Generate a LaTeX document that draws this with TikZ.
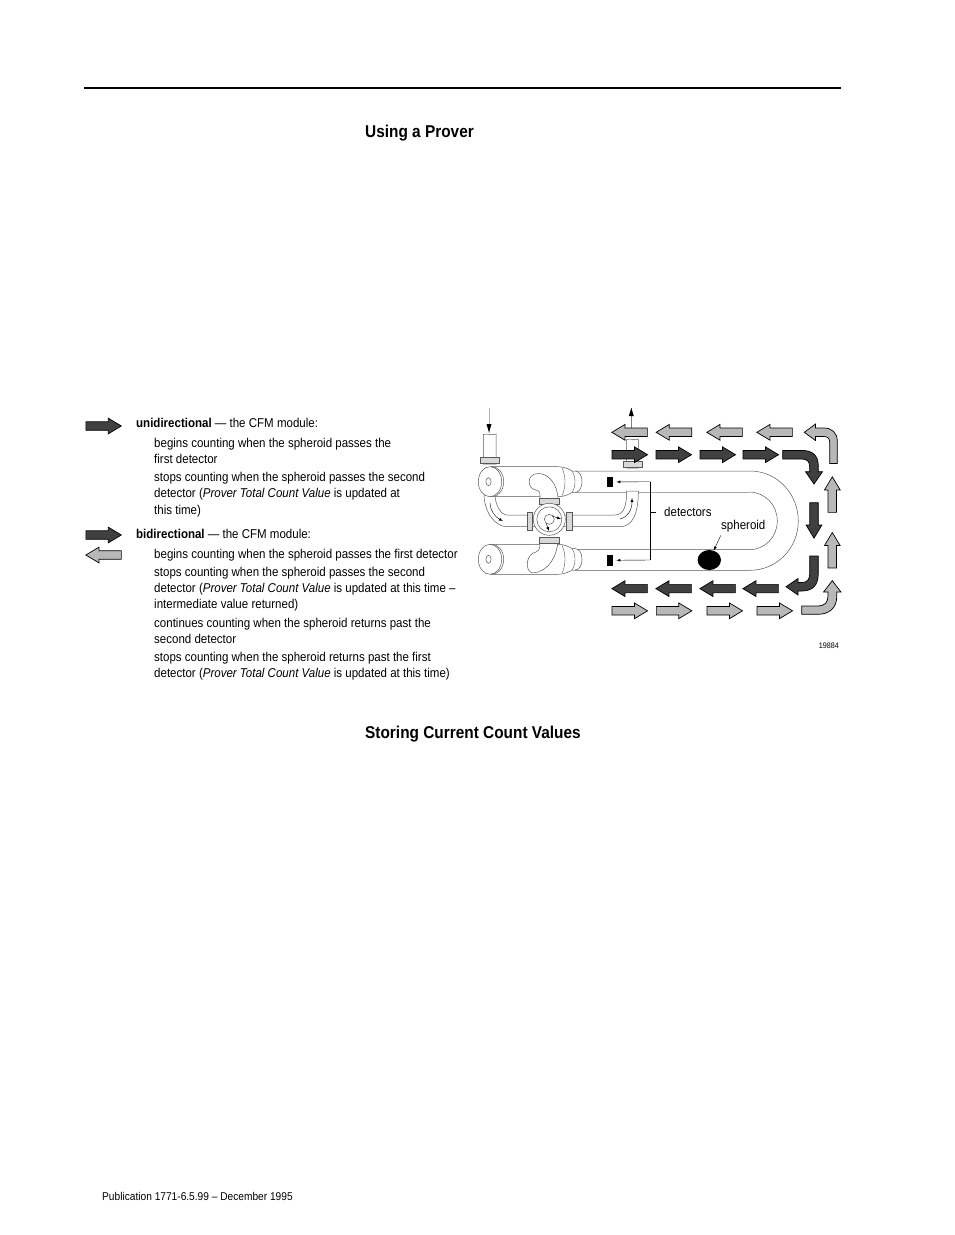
\documentclass[tikz,border=0pt]{standalone}
\usepackage{fontspec}
\setmainfont{Liberation Sans}[FakeStretch=0.9]
\usetikzlibrary{shapes.arrows,shapes.geometric,arrows}
\definecolor{darkflow}{gray}{0.25}
\definecolor{lightflow}{gray}{0.72}
\definecolor{pipeline}{gray}{0.35}
\tikzset{
  flowright/.style={single arrow, draw=black, line width=0.7pt, inner xsep=0pt, inner ysep=3.9pt,
    minimum height=35.5pt, minimum width=0pt, single arrow head extend=3.6pt,
    single arrow tip angle=62, anchor=tail},
  flowupright/.style={inner xsep=3.9pt, inner ysep=0pt},
  flowdark/.style={flowright, fill=darkflow},
  flowlight/.style={flowright, fill=lightflow},
  bodyline/.style={anchor=base west, inner sep=0pt, font=\fontsize{12.8}{14}\selectfont},
  footline/.style={anchor=base west, inner sep=0pt, font=\fontsize{11.3}{14}\selectfont},
  headline/.style={anchor=base west, inner sep=0pt, font=\fontsize{17.1}{18}\selectfont\bfseries},
  pipe/.style={draw=pipeline, line width=0.5pt, fill=white},
  flange/.style={draw=pipeline, line width=0.6pt, fill=black!15},
  bentflow/.style={draw=black, line width=0.7pt},
}
\begin{document}
\begin{tikzpicture}[x=1pt,y=-1pt]
  \useasboundingbox (0,0) rectangle (954,1235);

  % page rule and headings
  \coordinate (ruleL) at (84,88);
  \coordinate (ruleR) at (841,88);
  \draw[line width=2pt] (ruleL) -- (ruleR);
  \node[headline] (head1) at (365,137.5) {Using a Prover};
  \node[headline] (head2) at (365,738.5) {Storing Current Count Values};
  \node[footline] (foot) at (102,1200) {Publication 1771-6.5.99 -- December 1995};

  % legend text
  \node[bodyline] (uni) at (136,427) {\textbf{unidirectional} --- the CFM module:};
  \node[bodyline] (bi) at (136,538) {\textbf{bidirectional} --- the CFM module:};
  \foreach \y/\line [count=\i] in {
    447/{begins counting when the spheroid passes the},
    463/{first detector},
    481/{stops counting when the spheroid passes the second},
    497/{detector (\textit{Prover Total Count Value} is updated at},
    514/{this time)},
    558/{begins counting when the spheroid passes the first detector},
    576/{stops counting when the spheroid passes the second},
    592/{detector (\textit{Prover Total Count Value} is updated at this time --},
    608/{intermediate value returned)},
    627/{continues counting when the spheroid returns past the},
    643/{second detector},
    661/{stops counting when the spheroid returns past the first},
    677/{detector (\textit{Prover Total Count Value} is updated at this time)}}
  {
    \node[bodyline] (txt\i) at (154,\y) {\line};
  }

  % legend arrows
  \node[flowdark] (keyA) at (85.5,426) {};
  \node[flowdark] (keyB) at (85.5,535) {};
  \node[flowlight, shape border rotate=180] (keyC) at (121.7,555) {};

  % U tube
  \path[pipe] (575,471) -- (750,471) .. controls (777,471) and (798.3,493.5) .. (798.3,521)
    .. controls (798.3,548) and (777,570.3) .. (750,570.3) -- (575,570.3);
  \draw[draw=black!35, line width=0.6pt] (575,492) -- (749,492);
  \draw[pipe, fill=none] (749,492) .. controls (765,492) and (777.3,505) .. (777.3,521)
    .. controls (777.3,537) and (765,549.7) .. (749,549.7) -- (575,549.7);

  % return pipes and valve
  \path[pipe] (484,494) .. controls (484,512) and (495,526.7) .. (507,526.7) -- (620,526.7)
    .. controls (632,526.7) and (638.3,515) .. (638.3,491) -- (626.7,491)
    .. controls (626.7,505) and (624,515) .. (615,515) -- (507,515)
    .. controls (501,515) and (495,505) .. (495,494) -- cycle;
  \draw[flange] (527,512) rectangle (532,530);
  \draw[flange] (566.7,512) rectangle (572.3,530);

  % barrels
  \foreach \name/\yc in {upper/481.7, lower/559.3}
  {
    \path[pipe] (491,\yc-15) -- (558,\yc-15) .. controls (565,\yc-15) and (570,\yc-12) .. (572,\yc-10.7)
      -- (575,\yc-10.7) .. controls (580,\yc-10.7) and (582,\yc-5) .. (582,\yc)
      .. controls (582,\yc+5) and (580,\yc+10.7) .. (575,\yc+10.7) -- (572,\yc+10.7)
      .. controls (570,\yc+12) and (565,\yc+15) .. (558,\yc+15) -- (491,\yc+15) -- cycle;
    \draw[draw=pipeline, line width=0.4pt] (572,\yc-10.7) .. controls (576,\yc-5) and (576,\yc+5) .. (572,\yc+10.7);
    \draw[draw=pipeline, line width=0.4pt] (562,\yc-14) .. controls (566,\yc-5) and (566,\yc+5) .. (562,\yc+14);
    \draw[pipe] (492,\yc) ellipse [x radius=11.7, y radius=15];
    \draw[pipe] (490,\yc) ellipse [x radius=11.7, y radius=15];
    \draw[pipe] (488.5,\yc) ellipse [x radius=2.6, y radius=4];
  }

  % elbows above and below the valve
  \path[pipe] (558,500) .. controls (558,484) and (548,473) .. (538,473.5)
    .. controls (526,474) and (527,489) .. (536,490)
    .. controls (541,490.5) and (540,496) .. (540,500) -- cycle;
  \path[pipe] (558,538) .. controls (558,556) and (548,572) .. (533,573)
    .. controls (524,572) and (526,553) .. (536,552)
    .. controls (541,551) and (540,543) .. (540,538) -- cycle;
  \draw[flange] (539.5,498.7) rectangle (559.5,504);
  \draw[flange] (539.5,537.5) rectangle (559.5,543);
  \draw[pipe] (549.3,519.3) circle [radius=16];
  \draw[pipe] (549.3,519.3) circle [radius=12.5];
  \draw[pipe] (549.3,519.3) circle [radius=5];

  % small flow marks in the pipes
  \coordinate (markA) at (490,503);
  \coordinate (markB) at (503,521);
  \coordinate (markC) at (620,519);
  \coordinate (markD) at (632,498);
  \coordinate (markE) at (552,516);
  \coordinate (markF) at (561,519);
  \coordinate (markG) at (546,523);
  \coordinate (markH) at (549,531);
  \draw[-latex, line width=0.4pt] (markA) .. controls (490,510) and (495,517) .. (markB);
  \draw[-latex, line width=0.4pt] (markC) .. controls (628,517) and (632,510) .. (markD);
  \draw[-latex, line width=0.4pt] (markE) -- (markF);
  \draw[-latex, line width=0.4pt] (markG) -- (markH);

  % inlet and outlet
  \path[pipe] (483.3,464) -- (483.3,434.5) .. controls (488,433) and (491,436) .. (496,434) -- (496,464) -- cycle;
  \draw[flange] (480,457.3) rectangle (499.3,463.3);
  \path[pipe] (626.7,468) -- (626.7,439.5) .. controls (631,438) and (634,441) .. (638.3,439) -- (638.3,468) -- cycle;
  \draw[flange] (623,461.7) rectangle (642.7,467.7);
  \coordinate (inA) at (489,408);
  \coordinate (inB) at (489,432.5);
  \coordinate (outA) at (631.3,429);
  \coordinate (outB) at (631.3,408);
  \draw[draw=black!30, line width=0.6pt] (inA) -- (inB);
  \fill (inB) -- (486.5,424) -- (491.5,424) -- cycle;
  \draw[draw=black!50, line width=0.5pt] (outA) -- (outB);
  \fill (outB) -- (628.8,416) -- (633.8,416) -- cycle;

  % detectors
  \node[fill=black, inner sep=0pt, minimum width=5.4pt, minimum height=9.6pt] (detA) at (610,482) {};
  \node[fill=black, inner sep=0pt, minimum width=5.4pt, minimum height=10.6pt] (detB) at (610,560.3) {};
  \node[bodyline] (detlabel) at (664,516.5) {detectors};
  \coordinate (frameA) at (650.3,481.7);
  \coordinate (frameB) at (650.3,560);
  \coordinate (tickA) at (650.3,512.3);
  \coordinate (tickB) at (655.7,512.3);
  \draw[line width=0.4pt] (frameA) -- (frameB);
  \draw[line width=0.4pt] (tickA) -- (tickB);
  \draw[-latex, line width=0.4pt, shorten >=3.5pt] (frameA) -- (detA);
  \draw[-latex, line width=0.4pt, shorten >=3.5pt] (frameB) -- (detB);

  % spheroid
  \node[ellipse, fill=black, inner sep=0pt, minimum width=23.4pt, minimum height=20pt] (ball) at (709.3,560) {};
  \node[bodyline] (balllabel) at (721,529.5) {spheroid};
  \draw[-latex, line width=0.4pt] (720.7,535.5) -- (ball);

  % straight flow arrows
  \foreach \x [count=\i] in {611.7,655.7,699.7,742.7}
  {
    \node[flowdark] (rowB\i) at (\x,454.7) {};
  }
  \foreach \x [count=\i] in {647.7,691.7,735.7,778.7}
  {
    \node[flowdark, shape border rotate=180] (rowC\i) at (\x,588.6) {};
  }
  \foreach \x [count=\i] in {647.7,692,742.7,792.7}
  {
    \node[flowlight, shape border rotate=180] (rowA\i) at (\x,432.3) {};
  }
  \foreach \x [count=\i] in {611.7,656,706.7,756.7}
  {
    \node[flowlight] (rowD\i) at (\x,610.8) {};
  }
  \node[flowdark, flowupright, shape border rotate=270] (sideA) at (814,502.3) {};
  \node[flowlight, flowupright, shape border rotate=90] (sideB) at (832.3,512.7) {};
  \node[flowlight, flowupright, shape border rotate=90] (sideC) at (832.3,568.3) {};

  % bent flow arrows
  \draw[bentflow, fill=lightflow] (804.3,432.3) -- (815.5,424) -- (815.5,428) -- (824,428)
    .. controls (832,428) and (837.3,433) .. (837.3,441) -- (837.3,463.5) -- (829.7,463.5)
    -- (829.7,442) .. controls (829.7,438.5) and (827.5,436.5) .. (824,436.5) -- (815.5,436.5) -- (815.5,440.5) -- cycle;
  \draw[bentflow, fill=darkflow] (782.7,450.4) -- (802,450.4) .. controls (813,450.4) and (818.3,456) .. (818.3,466)
    -- (818.3,471.7) -- (822.5,471.7) -- (814,484) -- (805.5,471.7) -- (809.7,471.7) -- (809.7,467)
    .. controls (809.7,461.5) and (807,459) .. (802,459) -- (782.7,459) -- cycle;
  \draw[bentflow, fill=darkflow] (818.3,556) -- (818.3,573) .. controls (818.3,585) and (813,591) .. (802,591)
    -- (798,591) -- (798,595) -- (786,586.7) -- (798,578.5) -- (798,582.5) -- (802,582.5)
    .. controls (807,582.5) and (809.7,579.5) .. (809.7,574) -- (809.7,556) -- cycle;
  \draw[bentflow, fill=lightflow] (801.7,606) -- (818,606) .. controls (825,606) and (828,602) .. (828,596)
    -- (828,592) -- (823.5,592) -- (832.3,580.7) -- (841,592) -- (836.7,592) -- (836.7,597)
    .. controls (836.7,608) and (829,614.3) .. (818,614.3) -- (801.7,614.3) -- cycle;

  % drawing number
  \node[anchor=base east, inner sep=0pt, font=\fontsize{8}{10}\selectfont] (fignum) at (839,648) {19884};
\end{tikzpicture}
\end{document}
